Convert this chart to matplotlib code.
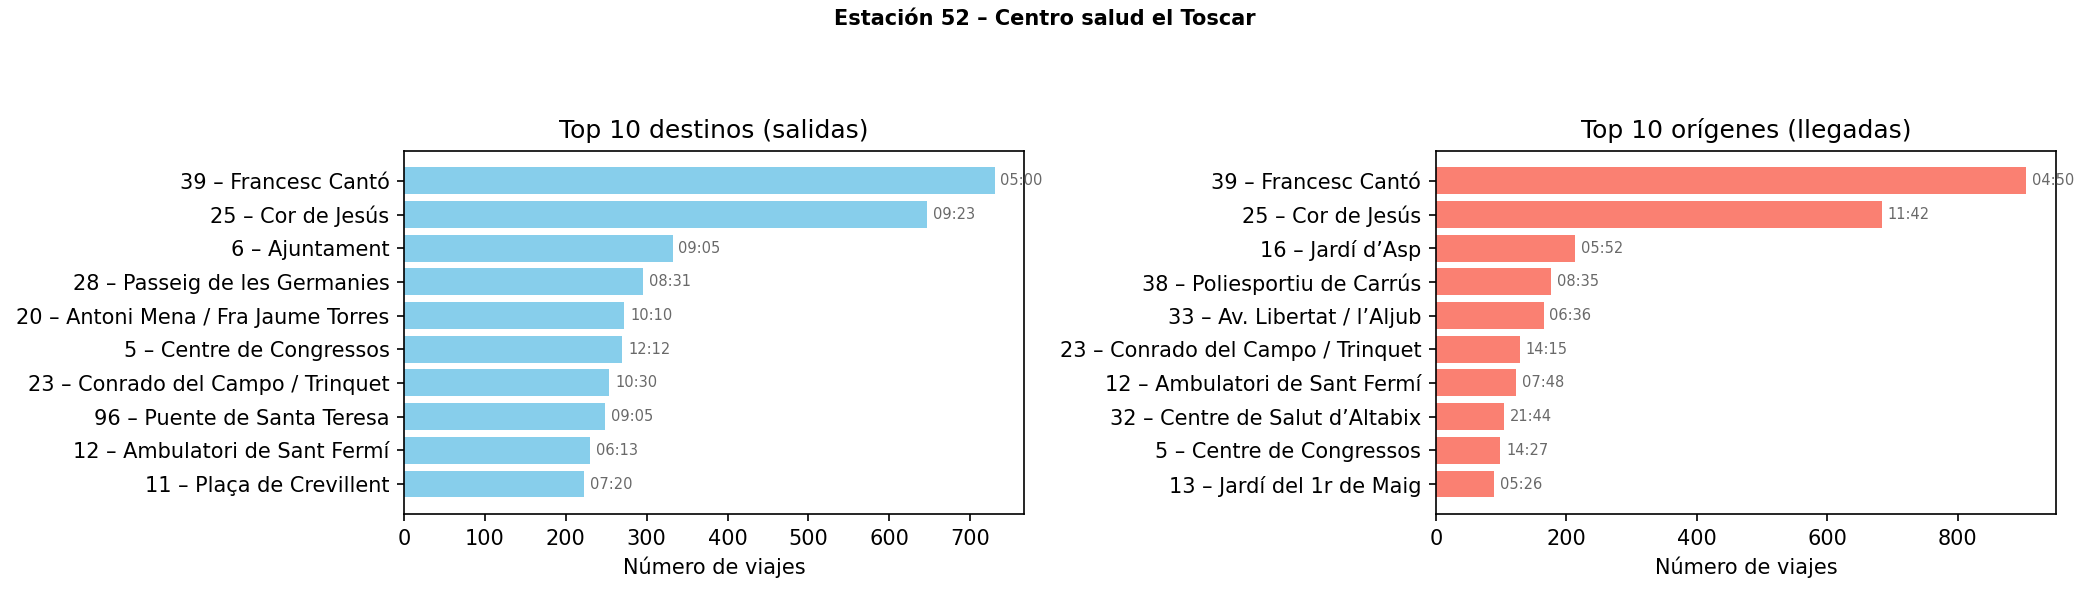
import matplotlib.pyplot as plt

# Datos estación 52
destinos = [
    "39 – Francesc Cantó",
    "25 – Cor de Jesús",
    "6 – Ajuntament",
    "28 – Passeig de les Germanies",
    "20 – Antoni Mena / Fra Jaume Torres",
    "5 – Centre de Congressos",
    "23 – Conrado del Campo / Trinquet",
    "96 – Puente de Santa Teresa",
    "12 – Ambulatori de Sant Fermí",
    "11 – Plaça de Crevillent",
]
salidas = [730, 647, 332, 295, 272, 270, 254, 249, 230, 223]
horas_salidas = ["05:00", "09:23", "09:05", "08:31", "10:10",
                 "12:12", "10:30", "09:05", "06:13", "07:20"]

origenes = [
    "39 – Francesc Cantó",
    "25 – Cor de Jesús",
    "16 – Jardí d’Asp",
    "38 – Poliesportiu de Carrús",
    "33 – Av. Libertat / l’Aljub",
    "23 – Conrado del Campo / Trinquet",
    "12 – Ambulatori de Sant Fermí",
    "32 – Centre de Salut d’Altabix",
    "5 – Centre de Congressos",
    "13 – Jardí del 1r de Maig",
]
llegadas = [905, 683, 214, 176, 165, 129, 123, 105, 99, 89]
horas_llegadas = ["04:50", "11:42", "05:52", "08:35", "06:36",
                  "14:15", "07:48", "21:44", "14:27", "05:26"]


def dibujar(ax, nombres, valores, horas, color, titulo):
    ax.barh(nombres[::-1], valores[::-1], color=color)
    offset = max(valores) * 0.01
    for nombre, v, h in zip(nombres, valores, horas):
        ax.text(v + offset, nombre, h, va='center', fontsize=7, color='dimgray')
    ax.set_title(titulo, fontsize=12)
    ax.set_xlabel('Número de viajes')


fig, (ax1, ax2) = plt.subplots(1, 2, figsize=(2090 / 150, 594 / 150), dpi=150)

dibujar(ax1, destinos, salidas, horas_salidas, 'skyblue', 'Top 10 destinos (salidas)')
dibujar(ax2, origenes, llegadas, horas_llegadas, 'salmon', 'Top 10 orígenes (llegadas)')

bottom, top = 0.1347, 0.746
ax1.set_position([0.1933, bottom, 0.490 - 0.1933, top - bottom])
ax2.set_position([0.687, bottom, 0.9837 - 0.687, top - bottom])

fig.suptitle('Estación 52 – Centro salud el Toscar', fontsize=10, fontweight='bold', y=0.985)

plt.savefig('out.png', dpi=150)
